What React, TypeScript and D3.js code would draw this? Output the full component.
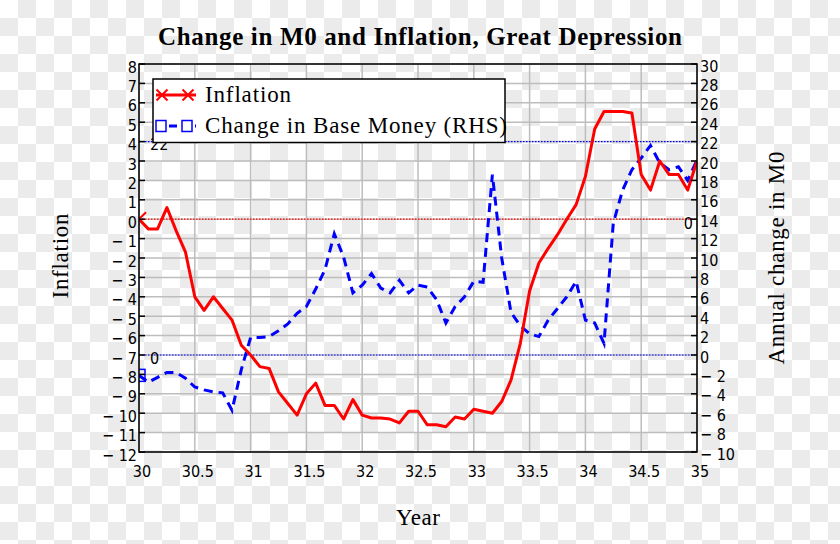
import React from "react";
import * as d3 from "d3";

const startYear = 30;
const inflation = [0, -0.5, -0.5, 0.6, -0.6, -1.7, -4.0, -4.7, -4.0, -4.6, -5.2, -6.5, -7.0, -7.6, -7.7, -8.9, -9.5, -10.1, -9.0, -8.45, -9.6, -9.6, -10.3, -9.3, -10.1, -10.25, -10.25, -10.3, -10.5, -9.9, -9.9, -10.6, -10.6, -10.7, -10.2, -10.3, -9.8, -9.9, -10.0, -9.4, -8.3, -6.4, -3.7, -2.26, -1.5, -0.8, 0.0, 0.75, 2.2, 4.65, 5.55, 5.55, 5.55, 5.47, 2.3, 1.5, 3.0, 2.3, 2.3, 1.5, 3.0];
const baseMoney = [-2.1, -2.8, -2.3, -1.8, -1.8, -2.4, -3.3, -3.6, -3.8, -3.9, -5.7, -1.5, 1.8, 1.8, 1.9, 2.5, 3.2, 4.3, 5.0, 6.8, 8.8, 12.5, 10.1, 6.4, 7.2, 8.4, 6.9, 6.4, 7.7, 6.4, 7.2, 7.0, 5.7, 3.3, 5.0, 6.0, 7.6, 7.5, 18.6, 10.0, 4.4, 3.0, 2.2, 1.9, 3.6, 4.8, 6.0, 7.6, 3.6, 3.3, 1.2, 13.6, 17.0, 19.1, 20.3, 21.6, 19.8, 19.1, 19.4, 18.0, 20.1];
const xTicks = [30, 30.5, 31, 31.5, 32, 32.5, 33, 33.5, 34, 34.5, 35];
const leftTicks = [8, 7, 6, 5, 4, 3, 2, 1, 0, -1, -2, -3, -4, -5, -6, -7, -8, -9, -10, -11, -12];
const rightTicks = [30, 28, 26, 24, 22, 20, 18, 16, 14, 12, 10, 8, 6, 4, 2, 0, -2, -4, -6, -8, -10];
const markerLeft = [0];
const markerRight = [22, 0];
const title = "Change in M0 and Inflation, Great Depression";
const legendLabels = ["Inflation", "Change in Base Money (RHS)"];

const L = 139, R = 697, T = 64, B = 452;
const tickFont = "'DejaVu Sans Condensed', 'Liberation Sans', sans-serif";
const serif = "'Liberation Serif', 'Times New Roman', serif";

const fmt = (v: number) => (v < 0 ? "\u2212 " + Math.abs(v) : String(v));

export default function App() {
  const x = d3.scaleLinear().domain([30, 35]).range([L, R]);
  const yL = d3.scaleLinear().domain([-12, 8]).range([B, T]);
  const yR = d3.scaleLinear().domain([-10, 30]).range([B, T]);
  const years = inflation.map((_, i) => startYear + i / 12);

  const redLine = d3.line<number>().x((_, i) => x(years[i])).y((d) => yL(d))(inflation) || "";
  const blueLine = d3.line<number>().x((_, i) => x(years[i])).y((d) => yR(d))(baseMoney) || "";

  const X = (cx: number, cy: number, s: number, key: string) => (
    <path key={key} d={`M${cx - s},${cy - s}L${cx + s},${cy + s}M${cx - s},${cy + s}L${cx + s},${cy - s}`} stroke="#ff0000" strokeWidth={2} fill="none" />
  );

  return (
    <svg width={840} height={544} style={{ position: "absolute", left: 0, top: 0 }}>
      <defs>
        <pattern id="chk" width={36} height={36} patternUnits="userSpaceOnUse">
          <rect width={36} height={36} fill="#ffffff" />
          <rect x={18} y={0} width={18} height={18} fill="#ebebeb" />
          <rect x={0} y={18} width={18} height={18} fill="#ebebeb" />
        </pattern>
        <clipPath id="plotClip">
          <rect x={L} y={T} width={R - L} height={B - T} />
        </clipPath>
      </defs>
      <rect width={840} height={544} fill="url(#chk)" />

      {/* grid */}
      {xTicks.map((v) => (
        <line key={"gx" + v} x1={x(v)} x2={x(v)} y1={T} y2={B} stroke="#bdbdbd" strokeWidth={1.5} />
      ))}
      {leftTicks.map((v) => (
        <line key={"gy" + v} x1={L} x2={R} y1={yL(v)} y2={yL(v)} stroke="#bdbdbd" strokeWidth={1.5} />
      ))}

      {/* marker lines */}
      {markerLeft.map((v) => (
        <line key={"ml" + v} x1={L} x2={R} y1={yL(v)} y2={yL(v)} stroke="#ff0000" strokeWidth={1.2} strokeDasharray="1.5,1.5" />
      ))}
      {markerRight.map((v) => (
        <line key={"mr" + v} x1={L} x2={R} y1={yR(v)} y2={yR(v)} stroke="#0000ff" strokeWidth={1.2} strokeDasharray="1.5,1.5" />
      ))}
      {markerLeft.map((v) => (
        <text key={"mlt" + v} x={R - 4} y={yL(v) + 4} textAnchor="end" dominantBaseline="central" fontFamily={tickFont} fontSize={16} fill="#000">{v}</text>
      ))}
      {markerRight.map((v) => (
        <text key={"mrt" + v} x={150} y={yR(v) + 3} textAnchor="start" dominantBaseline="central" fontFamily={tickFont} fontSize={16} fill="#000">{v}</text>
      ))}

      {/* series */}
      <g clipPath="url(#plotClip)">
        <path d={blueLine} fill="none" stroke="#0000ff" strokeWidth={3} strokeDasharray="9,6" />
        <path d={redLine} fill="none" stroke="#ff0000" strokeWidth={3} strokeLinejoin="round" />
        {X(x(years[0]), yL(inflation[0]), 7, "x0")}
        <rect x={x(years[0]) - 6} y={yR(baseMoney[0]) - 6} width={12} height={12} fill="none" stroke="#0000ff" strokeWidth={1.5} />
      </g>

      {/* frame */}
      <rect x={L} y={T} width={R - L} height={B - T} fill="none" stroke="#000" strokeWidth={1.5} />
      {leftTicks.map((v) => (
        <line key={"lt" + v} x1={L} x2={L + 6} y1={yL(v)} y2={yL(v)} stroke="#000" strokeWidth={1.5} />
      ))}
      {rightTicks.map((v) => (
        <line key={"rt" + v} x1={R - 6} x2={R} y1={yR(v)} y2={yR(v)} stroke="#000" strokeWidth={1.5} />
      ))}

      {/* tick labels */}
      {leftTicks.map((v) => (
        <text key={"ltl" + v} x={137} y={yL(v) + 3} textAnchor="end" dominantBaseline="central" fontFamily={tickFont} fontSize={16} fill="#000">{fmt(v)}</text>
      ))}
      {rightTicks.map((v) => (
        <text key={"rtl" + v} x={700} y={yR(v) + 2} textAnchor="start" dominantBaseline="central" fontFamily={tickFont} fontSize={16} fill="#000">{fmt(v)}</text>
      ))}
      {xTicks.map((v) => (
        <text key={"xtl" + v} x={x(v) + 3} y={471} textAnchor="middle" dominantBaseline="central" fontFamily={tickFont} fontSize={16} fill="#000">{v}</text>
      ))}

      {/* legend */}
      <rect x={153} y={79} width={352} height={63.5} fill="#fff" stroke="#000" strokeWidth={1.5} />
      <line x1={156} x2={196} y1={95} y2={95} stroke="#ff0000" strokeWidth={3} />
      {X(162, 95, 5.5, "lx1")}
      {X(188, 95, 5.5, "lx2")}
      <text x={205} y={102} fontFamily={serif} fontSize={23} textLength={86} lengthAdjust="spacing" fill="#000">{legendLabels[0]}</text>
      <line x1={156} x2={196} y1={126} y2={126} stroke="#0000ff" strokeWidth={3} strokeDasharray="8,5" />
      <rect x={156} y={120.5} width={10} height={11} fill="#fff" stroke="#0000ff" strokeWidth={1.5} />
      <rect x={182} y={120.5} width={10} height={11} fill="#fff" stroke="#0000ff" strokeWidth={1.5} />
      <text x={205} y={133} fontFamily={serif} fontSize={23} textLength={302} lengthAdjust="spacing" fill="#000">{legendLabels[1]}</text>

      {/* titles */}
      <text x={420} y={45} textAnchor="middle" fontFamily={serif} fontWeight="bold" fontSize={25} textLength={524} lengthAdjust="spacing" fill="#000">{title}</text>
      <text transform="translate(68,256) rotate(-90)" textAnchor="middle" fontFamily={serif} fontSize={23} textLength={85} lengthAdjust="spacing" fill="#000">Inflation</text>
      <text transform="translate(784,258) rotate(-90)" textAnchor="middle" fontFamily={serif} fontSize={23} textLength={213} lengthAdjust="spacing" fill="#000">Annual change in M0</text>
      <text x={418} y={525} textAnchor="middle" fontFamily={serif} fontSize={23} textLength={44} lengthAdjust="spacing" fill="#000">Year</text>
    </svg>
  );
}
